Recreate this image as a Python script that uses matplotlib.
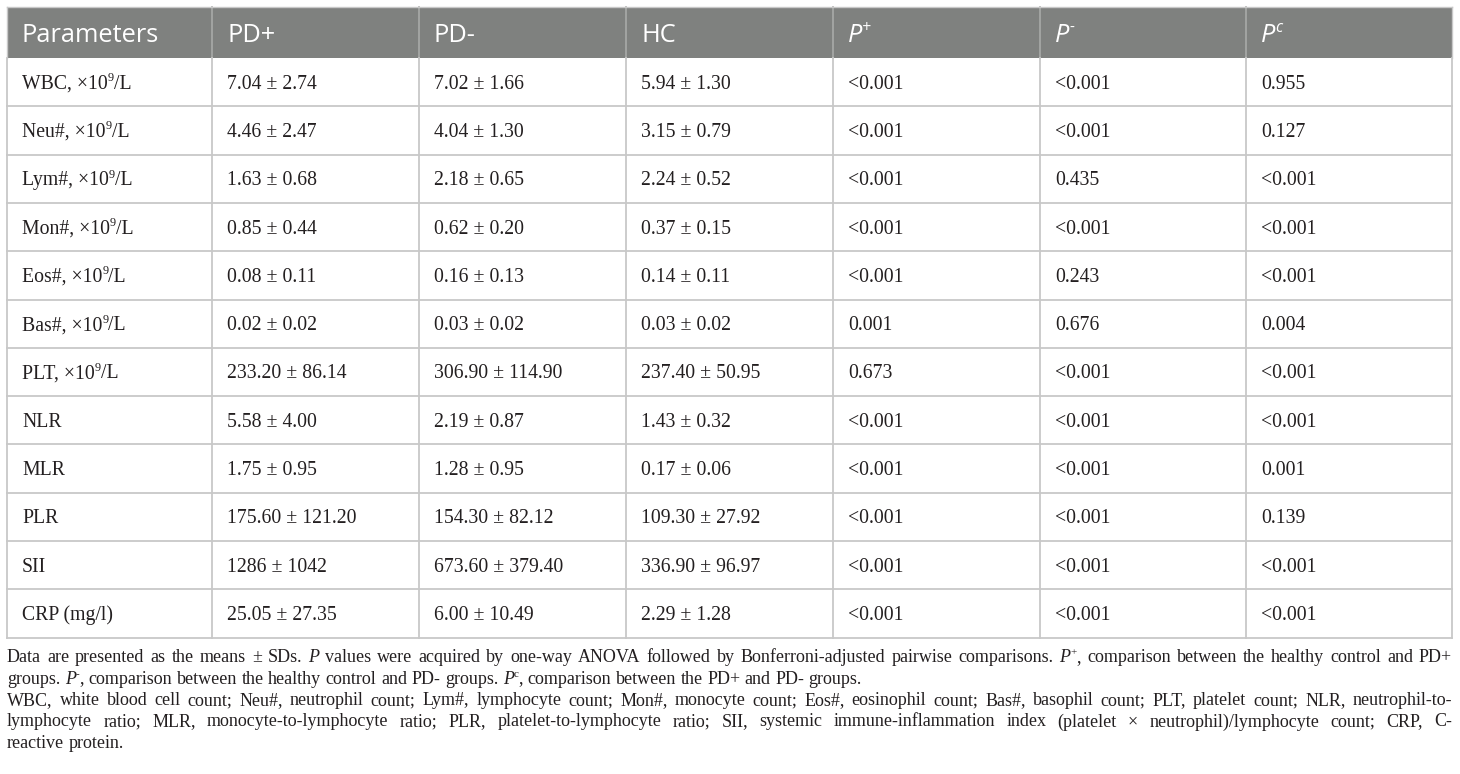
import matplotlib
matplotlib.use('Agg')
from matplotlib import pyplot as plt

# table contents
headers = ['Parameters', 'PD+', 'PD-', 'HC', 'P+', 'P-', 'Pc']
parameters = ['WBC', 'Neu#', 'Lym#', 'Mon#', 'Eos#', 'Bas#', 'PLT', 'NLR', 'MLR', 'PLR', 'SII', 'CRP (mg/l)']
has_unit = [True, True, True, True, True, True, True, False, False, False, False, False]
pd_pos = ['7.04 ± 2.74', '4.46 ± 2.47', '1.63 ± 0.68', '0.85 ± 0.44', '0.08 ± 0.11', '0.02 ± 0.02',
          '233.20 ± 86.14', '5.58 ± 4.00', '1.75 ± 0.95', '175.60 ± 121.20', '1286 ± 1042', '25.05 ± 27.35']
pd_neg = ['7.02 ± 1.66', '4.04 ± 1.30', '2.18 ± 0.65', '0.62 ± 0.20', '0.16 ± 0.13', '0.03 ± 0.02',
          '306.90 ± 114.90', '2.19 ± 0.87', '1.28 ± 0.95', '154.30 ± 82.12', '673.60 ± 379.40', '6.00 ± 10.49']
hc = ['5.94 ± 1.30', '3.15 ± 0.79', '2.24 ± 0.52', '0.37 ± 0.15', '0.14 ± 0.11', '0.03 ± 0.02',
      '237.40 ± 50.95', '1.43 ± 0.32', '0.17 ± 0.06', '109.30 ± 27.92', '336.90 ± 96.97', '2.29 ± 1.28']
p_plus = ['<0.001', '<0.001', '<0.001', '<0.001', '<0.001', '0.001',
          '0.673', '<0.001', '<0.001', '<0.001', '<0.001', '<0.001']
p_minus = ['<0.001', '<0.001', '0.435', '<0.001', '0.243', '0.676',
           '<0.001', '<0.001', '<0.001', '<0.001', '<0.001', '<0.001']
p_c = ['0.955', '0.127', '<0.001', '<0.001', '<0.001', '0.004',
       '<0.001', '<0.001', '0.001', '0.139', '<0.001', '<0.001']

# footnote lines: (text, justified); "*P" = italic P, "^x" = superscript x
notes = [
    ("Data are presented as the means ± SDs. *P values were acquired by one-way ANOVA followed by "
     "Bonferroni-adjusted pairwise comparisons. *P^+, comparison between the healthy control and PD+", True),
    ("groups. *P^-, comparison between the healthy control and PD- groups. *P^c, comparison between "
     "the PD+ and PD- groups.", False),
    ("WBC, white blood cell count; Neu#, neutrophil count; Lym#, lymphocyte count; Mon#, monocyte count; "
     "Eos#, eosinophil count; Bas#, basophil count; PLT, platelet count; NLR, neutrophil-to-", True),
    ("lymphocyte ratio; MLR, monocyte-to-lymphocyte ratio; PLR, platelet-to-lymphocyte ratio; SII, "
     "systemic immune-inflammation index (platelet × neutrophil)/lymphocyte count; CRP, C-", True),
    ("reactive protein.", False),
]

W, H = 1460, 774
fig = plt.figure(figsize=(W / 100, H / 100), dpi=100)
ax = fig.add_axes([0, 0, 1, 1])
ax.set_xlim(0, W)
ax.set_ylim(H, 0)
ax.axis('off')
renderer = fig.canvas.get_renderer()

col_x = [7, 212, 419, 626, 833, 1040, 1246, 1452]
top, head_bot, row_h = 7, 58, 48.3
grid = '#c8c8c8'
serif = 'Liberation Serif'
sans = 'Open Sans'


def width_of(t):
    return t.get_window_extent(renderer).width


def draw_runs(x, y, runs, size, family, color='#231f20', measure_only=False):
    # runs: list of (text, italic, superscript); y is the baseline
    px = size * 100 / 72
    for txt, ital, sup in runs:
        fs = size * 0.62 if sup else size
        yy = y - px * 0.38 if sup else y
        t = ax.text(x, yy, txt, fontsize=fs, family=family, color=color,
                    style='italic' if ital else 'normal', va='baseline', ha='left')
        x += width_of(t)
        if measure_only:
            t.remove()
    return x


def parse_word(w):
    runs = []
    if w.startswith('*P'):
        runs.append(('P', True, False))
        rest = w[2:]
        if rest.startswith('^'):
            runs.append((rest[1], False, True))
            rest = rest[2:]
        if rest:
            runs.append((rest, False, False))
    else:
        runs.append((w, False, False))
    return runs


# header band
ax.fill_between([col_x[0], col_x[-1]], top, head_bot, color='#7f817f', lw=0)
for i, h in enumerate(headers):
    x = col_x[i] + 15
    if h.startswith('P') and len(h) == 2:
        runs = [('P', True, False), (h[1], True, True)]
    else:
        runs = [(h, False, False)]
    draw_runs(x, 41.5, runs, 18.3, sans, color='white')
for x in col_x[1:-1]:
    ax.plot([x, x], [top, head_bot], color='#a8aaa8', lw=1.2)

# body
columns = [pd_pos, pd_neg, hc, p_plus, p_minus, p_c]
for r, name in enumerate(parameters):
    yc = head_bot + row_h * (r + 0.5)
    base = yc + 6.5
    runs = [(name, False, False)]
    if has_unit[r]:
        runs = [(name + ', ×10', False, False), ('9', False, True), ('/L', False, False)]
    draw_runs(col_x[0] + 15, base, runs, 14.2, serif)
    for c, col in enumerate(columns):
        draw_runs(col_x[c + 1] + 15, base, [(col[r], False, False)], 14.2, serif)

bottom = head_bot + row_h * len(parameters)
for r in range(1, len(parameters)):
    y = head_bot + row_h * r
    ax.plot([col_x[0], col_x[-1]], [y, y], color=grid, lw=1.3)
for x in col_x:
    ax.plot([x, x], [head_bot, bottom], color=grid, lw=1.3)
ax.plot([col_x[0], col_x[-1]], [bottom, bottom], color=grid, lw=1.3)
ax.plot([col_x[0], col_x[-1]], [top, top], color=grid, lw=1.0)
for x in (col_x[0], col_x[-1]):
    ax.plot([x, x], [top, head_bot], color=grid, lw=1.0)

# footnotes
fsz = 13.0
space = draw_runs(0, 0, [('a a', False, False)], fsz, serif, measure_only=True) - \
    draw_runs(0, 0, [('aa', False, False)], fsz, serif, measure_only=True)
line_y = 662
for text, justify in notes:
    words = [parse_word(w) for w in text.split(' ')]
    widths = [draw_runs(0, 0, wr, fsz, serif, measure_only=True) for wr in words]
    if justify:
        gap = (col_x[-1] - col_x[0] - sum(widths)) / (len(words) - 1)
    else:
        gap = space
    x = col_x[0]
    for wr, wd in zip(words, widths):
        draw_runs(x, line_y, wr, fsz, serif)
        x += wd + gap
    line_y += 21.5

plt.savefig('out.png', dpi=100)
